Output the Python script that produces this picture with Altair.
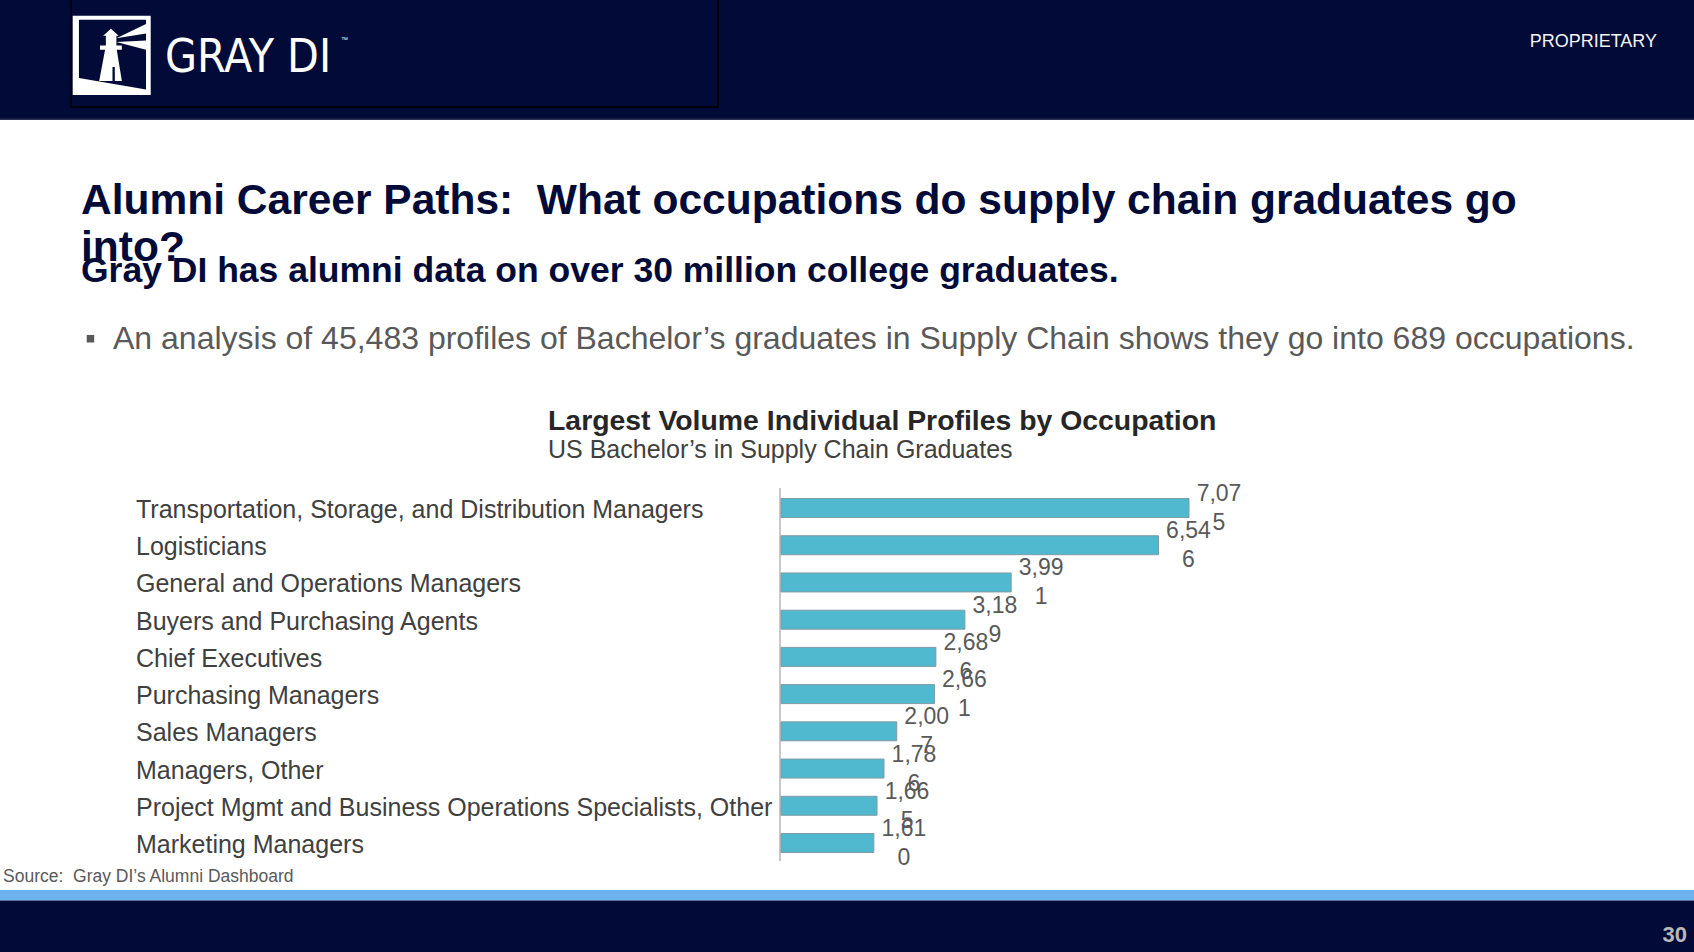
import altair as alt
import pandas as pd

# ---------------- data ----------------
occupations = [
    "Transportation, Storage, and Distribution Managers",
    "Logisticians",
    "General and Operations Managers",
    "Buyers and Purchasing Agents",
    "Chief Executives",
    "Purchasing Managers",
    "Sales Managers",
    "Managers, Other",
    "Project Mgmt and Business Operations Specialists, Other",
    "Marketing Managers",
]
profiles = [7075, 6546, 3991, 3189, 2686, 2661, 2007, 1786, 1665, 1610]

slide_title_1 = "Alumni Career Paths:\u00a0 What occupations do supply chain graduates go"
slide_title_2 = "into?"
slide_subtitle = "Gray DI has alumni data on over 30 million college graduates."
bullet_text = "An analysis of 45,483 profiles of Bachelor\u2019s graduates in Supply Chain shows they go into 689 occupations."
chart_title = "Largest Volume Individual Profiles by Occupation"
chart_subtitle = "US Bachelor\u2019s in Supply Chain Graduates"
source_text = "Source:\u00a0 Gray DI\u2019s Alumni Dashboard"
brand_text = "GRAY DI"
proprietary_text = "PROPRIETARY"
page_number = "30"

# ---------------- style ----------------
NAVY = "#020a38"
FONT = "Liberation Sans"
W, H = 1694, 952

df = pd.DataFrame({"occupation": occupations, "profiles": profiles})
# value labels wrap after four characters, as in the original slide
df["label"] = [f"{v:,}"[:4] + "\n" + f"{v:,}"[4:] for v in profiles]

one = pd.DataFrame({"k": [0]})


def box(x1, x2, y1, y2, color, **kw):
    return alt.Chart(one).mark_rect(color=color, **kw).encode(
        x=alt.value(x1), x2=alt.value(x2), y=alt.value(y1), y2=alt.value(y2)
    )


def txt(s, x, y, size, color, weight="normal", align="left", baseline="alphabetic", font=FONT):
    return alt.Chart(one).mark_text(
        text=s, fontSize=size, color=color, fontWeight=weight, align=align,
        baseline=baseline, font=font,
    ).encode(x=alt.value(x), y=alt.value(y))


def shape(path, cx, cy, size, color):
    return alt.Chart(one).mark_point(
        shape=path, size=size, filled=True, fill=color, opacity=1, strokeWidth=0
    ).encode(x=alt.value(cx), y=alt.value(cy))


# logo shapes (normalised coordinates)
navy_inner = "M -0.84 -0.91 L 0.88 -0.91 L 0.88 0.88 L -0.84 0.58 Z"
lighthouse = (
    "M -0.32 0.66 L 0.26 0.66 L 0.13 -0.14 L -0.17 -0.14 Z "
    "M -0.30 -0.14 L 0.26 -0.14 L 0.26 -0.25 L -0.30 -0.25 Z "
    "M -0.15 -0.25 L 0.12 -0.25 L 0.12 -0.50 L -0.15 -0.50 Z "
    "M -0.22 -0.50 L 0.18 -0.50 L -0.02 -0.68 Z "
    "M 0.12 -0.44 L 0.88 -0.80 L 0.88 -0.56 Z "
    "M 0.12 -0.34 L 0.88 -0.38 L 0.88 -0.14 Z"
)
door = "M 0.02 0.30 L 0.08 0.30 L 0.08 0.66 L 0.02 0.66 Z"

x_scale = alt.Scale(domain=[0, 7075], range=[781, 1189], nice=False, zero=True)
y_scale = alt.Scale(domain=occupations, range=[489.4, 861.6], paddingInner=0.49, paddingOuter=0.245)

layers = [
    # header band
    box(0, W, 0, 119, NAVY),
    box(0, W, 118.5, 120, "#2a3150"),
    box(71, 718, -3, 107, NAVY, stroke="#000000", strokeWidth=1.5),
    box(72.7, 150.7, 15.7, 95, "white"),
    shape(navy_inner, 111.7, 55.3, 78 ** 2, NAVY),
    shape(lighthouse, 111.7, 55.3, 78 ** 2, "white"),
    shape(door, 111.7, 55.3, 78 ** 2, NAVY),
    txt(brand_text, 165, 72, 46, "white", font="Liberation Sans Narrow, DejaVu Sans Condensed, sans-serif"),
    txt("\u2122", 341, 42, 7, "white"),
    txt(proprietary_text, 1657, 47, 18, "#f2f2f2", align="right"),
    # footer
    box(0, W, 890, 900.5, "#6cb2ef"),
    box(0, W, 900.5, H, NAVY),
    txt(page_number, 1687, 942, 22, "#b8b8b8", weight="bold", align="right"),
    txt(source_text, 3, 882, 17.5, "#595959"),
    # slide titles
    txt(slide_title_1, 81, 214, 42.5, NAVY, weight="bold"),
    txt(slide_title_2, 81, 261, 42.5, NAVY, weight="bold"),
    txt(slide_subtitle, 81, 282, 35.5, NAVY, weight="bold"),
    box(86.7, 94.2, 335, 342.5, "#595959"),
    txt(bullet_text, 113, 349, 32, "#595959"),
    # chart titles
    txt(chart_title, 548, 430, 28.4, "#262626", weight="bold"),
    txt(chart_subtitle, 548, 458, 25, "#404040"),
    # axis line
    alt.Chart(one).mark_rule(color="#c8c8c8", strokeWidth=2).encode(
        x=alt.value(780), y=alt.value(488), y2=alt.value(861)
    ),
    # bars
    alt.Chart(df).mark_bar(fill="#50b8cf", stroke="#7f9ba3", strokeWidth=1).encode(
        x=alt.X("profiles:Q", scale=x_scale, axis=None),
        y=alt.Y("occupation:N", scale=y_scale, sort=occupations, axis=None),
    ),
    # category labels
    alt.Chart(df).mark_text(
        align="left", baseline="middle", fontSize=25, color="#404040", font=FONT, dy=2
    ).encode(
        x=alt.value(136),
        y=alt.Y("occupation:N", scale=y_scale, sort=occupations, axis=None),
        text="occupation:N",
    ),
    # value labels
    alt.Chart(df).mark_text(
        align="center", baseline="middle", fontSize=23, color="#595959", font=FONT,
        lineBreak="\n", lineHeight=29, dx=30, dy=-14,
    ).encode(
        x=alt.X("profiles:Q", scale=x_scale, axis=None),
        y=alt.Y("occupation:N", scale=y_scale, sort=occupations, axis=None),
        text="label:N",
    ),
]

chart = alt.layer(*layers).properties(
    width=W, height=H, padding=0, autosize="none", background="white"
).configure_view(strokeWidth=0)

chart.save("out.html", embed_options={"renderer": "svg", "actions": False})
